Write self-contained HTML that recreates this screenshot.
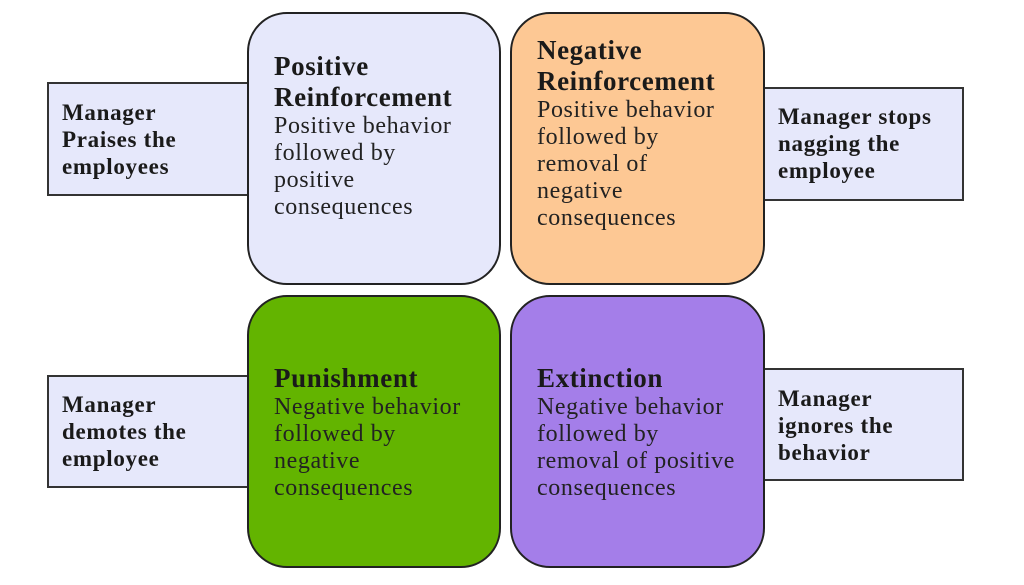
<!DOCTYPE html>
<html><head><meta charset="utf-8"><style>
body{margin:0;width:1024px;height:585px;background:#fff;position:relative;overflow:hidden;font-family:"Liberation Serif",serif;color:#1a1a1a}
.b{position:absolute;border:2px solid #222;box-sizing:border-box;border-radius:40px}
.s{position:absolute;border:2px solid #333;box-sizing:border-box;background:#e6e8fb}
.t{position:absolute;white-space:nowrap}
.h{font-weight:bold;font-size:27px;line-height:31px;letter-spacing:0.6px}
.p{font-size:24px;line-height:27px;color:#222;letter-spacing:0.6px}
.m{font-weight:bold;font-size:23px;line-height:27px;letter-spacing:0.7px}
</style></head><body>
<div class="s" style="left:47px;top:82px;width:202px;height:114px"></div>
<div class="s" style="left:762px;top:87px;width:202px;height:114px"></div>
<div class="s" style="left:47px;top:375px;width:202px;height:113px"></div>
<div class="s" style="left:762px;top:368px;width:202px;height:113px"></div>
<div class="b" style="left:247px;top:12px;width:254px;height:273px;background:#e6e8fb"></div>
<div class="b" style="left:510px;top:12px;width:255px;height:273px;background:#fdc894"></div>
<div class="b" style="left:247px;top:295px;width:254px;height:273px;background:#63b400"></div>
<div class="b" style="left:510px;top:295px;width:255px;height:273px;background:#a47ee9"></div>

<div class="t" style="left:274px;top:51px"><div class="h">Positive<br>Reinforcement</div><div class="p">Positive behavior<br>followed by<br>positive<br>consequences</div></div>
<div class="t" style="left:537px;top:35px"><div class="h">Negative<br>Reinforcement</div><div class="p">Positive behavior<br>followed by<br>removal of<br>negative<br>consequences</div></div>
<div class="t" style="left:274px;top:363px"><div class="h">Punishment</div><div class="p">Negative behavior<br>followed by<br>negative<br>consequences</div></div>
<div class="t" style="left:537px;top:363px"><div class="h">Extinction</div><div class="p">Negative behavior<br>followed by<br>removal of positive<br>consequences</div></div>

<div class="t m" style="left:62px;top:99px">Manager<br>Praises the<br>employees</div>
<div class="t m" style="left:778px;top:103px">Manager stops<br>nagging the<br>employee</div>
<div class="t m" style="left:62px;top:391px">Manager<br>demotes the<br>employee</div>
<div class="t m" style="left:778px;top:385px">Manager<br>ignores the<br>behavior</div>
</body></html>
